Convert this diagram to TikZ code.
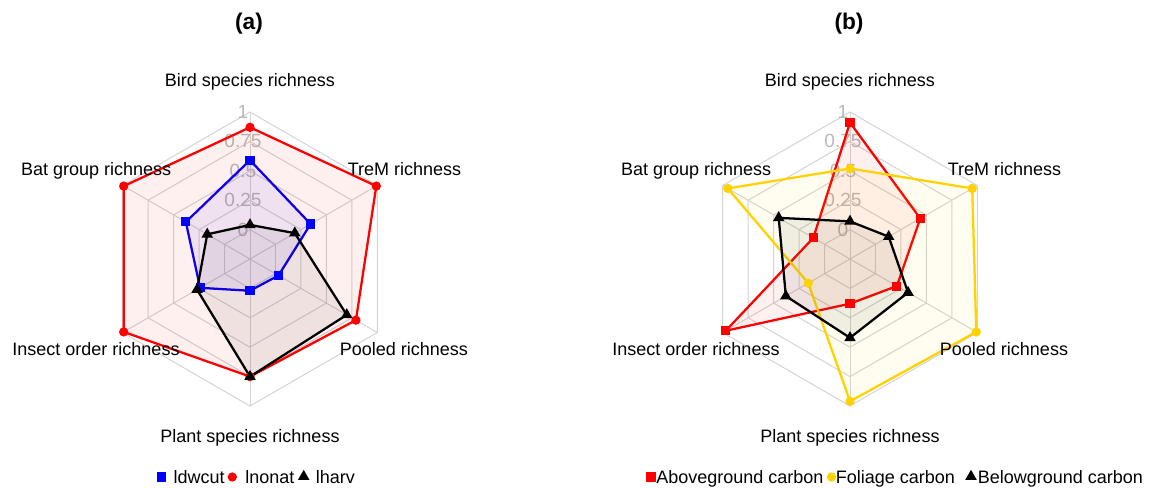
\documentclass[tikz,border=0pt]{standalone}
\usepackage{fontspec}
\setmainfont{Liberation Sans}
\usetikzlibrary{shapes.geometric}
\definecolor{gridc}{RGB}{212,212,212}
\definecolor{tickc}{RGB}{185,185,185}
\definecolor{goldc}{RGB}{255,210,0}
\tikzset{
  lab/.style={font=\fontsize{13.5}{16}\selectfont, inner sep=0pt, anchor=base},
  legtext/.style={font=\fontsize{13.5}{16}\selectfont, inner sep=0pt, anchor=base west},
  ttl/.style={font=\fontsize{17}{20}\selectfont\bfseries, inner sep=0pt},
  ticklab/.style={font=\fontsize{14.3}{16}\selectfont, text=tickc, inner sep=0pt},
  gridline/.style={draw=gridc, line width=0.75pt},
  series/.style={line width=1.7pt, line join=round, draw=#1, fill=#1, fill opacity=0.06},
  sqm/.style={rectangle, fill=#1, minimum size=6.8pt, inner sep=0pt},
  cim/.style={circle, fill=#1, minimum size=7pt, inner sep=0pt},
  trm/.style={regular polygon, regular polygon sides=3, fill=#1, minimum size=10pt, inner sep=0pt},
}
% radar point: name, angle, value
\newcommand\rpt[3]{\coordinate (#1) at (#2:{29.4*(1+4*#3)});}
% grid for one chart; #1 = prefix
\newcommand\radargrid[1]{%
  \foreach \k in {1,...,5}{
    \draw[gridline] (30:{29.4*\k}) -- (90:{29.4*\k}) -- (150:{29.4*\k}) -- (210:{29.4*\k}) -- (270:{29.4*\k}) -- (330:{29.4*\k}) -- cycle;
  }
  \coordinate (#1c) at (0,0);
  \foreach \a in {30,90,...,330}{
    \coordinate (#1s\a) at (\a:147);
    \draw[gridline] (#1c) -- (#1s\a);
  }
  \node[ticklab] (#1t0) at (-7,29.4) {0};
  \node[ticklab] (#1t1) at (-7,58.8) {0.25};
  \node[ticklab] (#1t2) at (-7,88.2) {0.5};
  \node[ticklab] (#1t3) at (-7,117.6) {0.75};
  \node[ticklab] (#1t4) at (-7,147) {1};
}
\begin{document}
\begin{tikzpicture}[x=0.75pt,y=-0.75pt]
\useasboundingbox (0,0) rectangle (1158,487);
\fill[white] (0,0) rectangle (1158,487);

% ---------------- chart (a) ----------------
\node[ttl] (ta) at (249,24) {(a)};
\begin{scope}[shift={(250,259)}, y=0.75pt]
  \radargrid{a}
  % ldwcut
  \rpt{ab1}{90}{0.59}\rpt{ab2}{150}{0.38}\rpt{ab3}{210}{0.24}
  \rpt{ab4}{270}{0.02}\rpt{ab5}{330}{0.03}\rpt{ab6}{30}{0.345}
  % lnonat
  \rpt{ar1}{90}{0.87}\rpt{ar2}{150}{0.99}\rpt{ar3}{210}{0.99}
  \rpt{ar4}{270}{0.75}\rpt{ar5}{330}{0.79}\rpt{ar6}{30}{0.99}
  % lharv
  \rpt{ak1}{90}{0.04}\rpt{ak2}{150}{0.17}\rpt{ak3}{210}{0.27}
  \rpt{ak4}{270}{0.75}\rpt{ak5}{330}{0.70}\rpt{ak6}{30}{0.19}
  \draw[series=blue] (ab1) -- (ab2) -- (ab3) -- (ab4) -- (ab5) -- (ab6) -- cycle;
  \draw[series=red] (ar1) -- (ar2) -- (ar3) -- (ar4) -- (ar5) -- (ar6) -- cycle;
  \draw[series=black] (ak1) -- (ak2) -- (ak3) -- (ak4) -- (ak5) -- (ak6) -- cycle;
  \foreach \i in {1,...,6}{\node[sqm=blue] (mab\i) at (ab\i) {};}
  \foreach \i in {1,...,6}{\node[cim=red] (mar\i) at (ar\i) {};}
  \foreach \i in {1,...,6}{\node[trm=black] (mak\i) at (ak\i) {};}
\end{scope}
\node[lab] (la1) at (250,86.5) {Bird species richness};
\node[lab] (la2) at (404.5,175) {TreM richness};
\node[lab] (la3) at (96.2,175) {Bat group richness};
\node[lab] (la4) at (96,355) {Insect order richness};
\node[lab] (la5) at (404,355) {Pooled richness};
\node[lab] (la6) at (250,442) {Plant species richness};
% legend (a)
\node[sqm=blue] (lga1) at (161.5,477) {};
\node[legtext] (lgta1) at (173.3,483.3) {ldwcut};
\node[cim=red] (lga2) at (232.3,477) {};
\node[legtext] (lgta2) at (245,483.3) {lnonat};
\node[trm=black] (lga3) at (303.7,476.5) {};
\node[legtext] (lgta3) at (315.7,483.3) {lharv};

% ---------------- chart (b) ----------------
\node[ttl] (tb) at (849,24) {(b)};
\begin{scope}[shift={(850,259)}, y=0.75pt]
  \radargrid{b}
  % Aboveground carbon
  \rpt{br1}{90}{0.91}\rpt{br2}{150}{0.11}\rpt{br3}{210}{0.97}
  \rpt{br4}{270}{0.13}\rpt{br5}{330}{0.21}\rpt{br6}{30}{0.44}
  % Foliage carbon
  \rpt{by1}{90}{0.52}\rpt{by2}{150}{0.95}\rpt{by3}{210}{0.16}
  \rpt{by4}{270}{0.96}\rpt{by5}{330}{0.99}\rpt{by6}{30}{0.95}
  % Belowground carbon
  \rpt{bk1}{90}{0.07}\rpt{bk2}{150}{0.45}\rpt{bk3}{210}{0.38}
  \rpt{bk4}{270}{0.42}\rpt{bk5}{330}{0.32}\rpt{bk6}{30}{0.13}
  \draw[series=red] (br1) -- (br2) -- (br3) -- (br4) -- (br5) -- (br6) -- cycle;
  \draw[series=goldc] (by1) -- (by2) -- (by3) -- (by4) -- (by5) -- (by6) -- cycle;
  \draw[series=black] (bk1) -- (bk2) -- (bk3) -- (bk4) -- (bk5) -- (bk6) -- cycle;
  \foreach \i in {1,...,6}{\node[sqm=red] (mbr\i) at (br\i) {};}
  \foreach \i in {1,...,6}{\node[cim=goldc] (mby\i) at (by\i) {};}
  \foreach \i in {1,...,6}{\node[trm=black] (mbk\i) at (bk\i) {};}
\end{scope}
\node[lab] (lb1) at (850,86.5) {Bird species richness};
\node[lab] (lb2) at (1004.5,175) {TreM richness};
\node[lab] (lb3) at (696.2,175) {Bat group richness};
\node[lab] (lb4) at (696,355) {Insect order richness};
\node[lab] (lb5) at (1004,355) {Pooled richness};
\node[lab] (lb6) at (850,442) {Plant species richness};
% legend (b)
\node[sqm=red] (lgb1) at (651,477) {};
\node[legtext] (lgtb1) at (656,483.3) {Aboveground carbon};
\node[cim=goldc] (lgb2) at (831.5,477) {};
\node[legtext] (lgtb2) at (835.5,483.3) {Foliage carbon};
\node[trm=black] (lgb3) at (971,476.5) {};
\node[legtext] (lgtb3) at (977.5,483.3) {Belowground carbon};
\end{tikzpicture}
\end{document}
